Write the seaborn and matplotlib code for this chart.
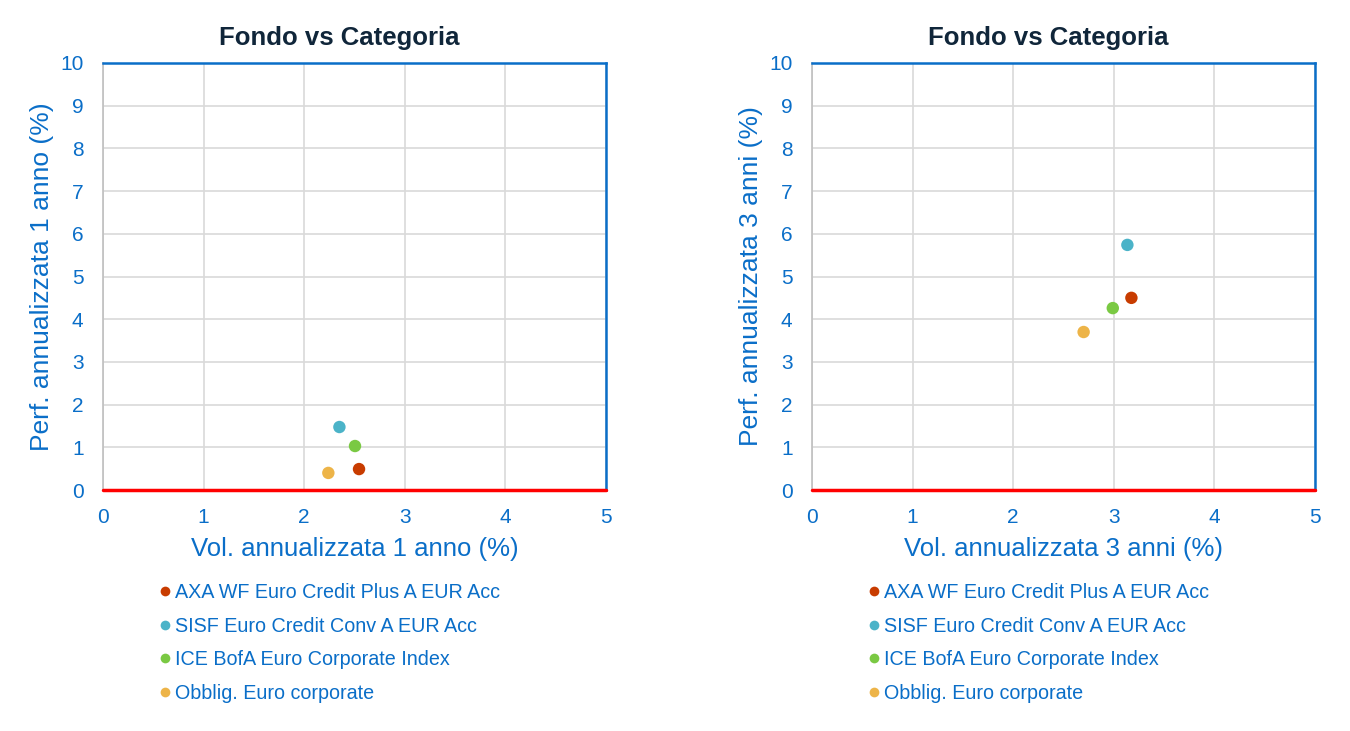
import pandas as pd
import matplotlib
matplotlib.use('Agg')
import matplotlib.pyplot as plt
import seaborn as sns
from matplotlib.lines import Line2D

series = ['AXA WF Euro Credit Plus A EUR Acc',
          'SISF Euro Credit Conv A EUR Acc',
          'ICE BofA Euro Corporate Index',
          'Obblig. Euro corporate']
colors = ['#C83C00', '#4BB3C8', '#7AC943', '#EDB448']

vol_1y = [2.545, 2.35, 2.505, 2.24]
perf_1y = [0.49, 1.475, 1.03, 0.40]
vol_3y = [3.175, 3.135, 2.99, 2.70]
perf_3y = [4.50, 5.74, 4.26, 3.70]

x_labels = ['Vol. annualizzata 1 anno (%)', 'Vol. annualizzata 3 anni (%)']
y_labels = ['Perf. annualizzata 1 anno (%)', 'Perf. annualizzata 3 anni (%)']
title = 'Fondo vs Categoria'

BLUE = '#0A6EC8'

sns.set_theme(style='white')
plt.rcParams['font.family'] = ['Liberation Sans', 'DejaVu Sans']

fig = plt.figure(figsize=(13.5, 7.31), dpi=100)
lefts = [103 / 1350, 812 / 1350]
datasets = [(vol_1y, perf_1y), (vol_3y, perf_3y)]
palette = dict(zip(series, colors))

for i, (xs, ys) in enumerate(datasets):
    ax = fig.add_axes([lefts[i], (731 - 490) / 731, 503 / 1350, 427 / 731])
    df = pd.DataFrame({'serie': series, 'vol': xs, 'perf': ys})
    sns.scatterplot(data=df, x='vol', y='perf', hue='serie', palette=palette,
                    s=80, edgecolor='none', legend=False, ax=ax, zorder=5)
    ax.set_xlim(0, 5)
    ax.set_ylim(0, 10)
    ax.set_xticks(range(0, 6))
    ax.set_yticks(range(0, 11))
    ax.grid(True, color='#D9D9D9', linewidth=1.2)
    ax.set_axisbelow(True)
    ax.axhline(0, color='#FF0000', linewidth=2.5, zorder=4, clip_on=False)
    for side in ['top', 'right']:
        ax.spines[side].set_color(BLUE)
        ax.spines[side].set_linewidth(1.8)
    ax.spines['left'].set_color('#BFBFBF')
    ax.spines['left'].set_linewidth(1.2)
    ax.spines['bottom'].set_visible(False)
    ax.tick_params(axis='both', colors=BLUE, labelsize=15, length=0)
    ax.tick_params(axis='y', pad=14)
    ax.tick_params(axis='x', pad=13)
    ax.set_xlabel(x_labels[i], color=BLUE, fontsize=18.5)
    ax.set_ylabel(y_labels[i], color=BLUE, fontsize=19)
    ax.xaxis.set_label_coords(0.5, -0.11)
    ax.yaxis.set_label_coords(-0.098, 0.5)
    ax.set_title(title, color='#10263A', fontsize=18.5, fontweight='bold',
                 pad=13, x=0.47)

    handles = [Line2D([0], [0], marker='o', linestyle='', markersize=7,
                      markerfacecolor=c, markeredgecolor='none') for c in colors]
    ax.legend(handles, series, loc='upper left',
              bbox_to_anchor=((lefts[i] * 1350 + 56) / 1350, (731 - 583) / 731),
              bbox_transform=fig.transFigure, frameon=False, fontsize=14.2,
              labelcolor=BLUE, handlelength=0.6, handletextpad=0.2,
              labelspacing=0.74, borderpad=0, borderaxespad=0)

fig.savefig('out.png', dpi=100)
